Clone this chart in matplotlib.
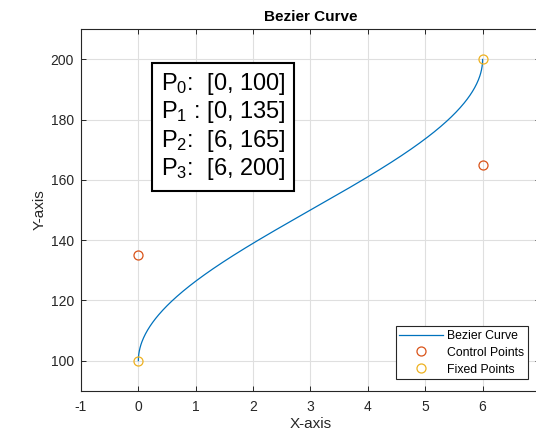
import numpy as np
import matplotlib
matplotlib.use("Agg")
import matplotlib.pyplot as plt

plt.rcParams['font.family'] = ['Liberation Sans', 'DejaVu Sans']
plt.rcParams['mathtext.fontset'] = 'custom'
plt.rcParams['mathtext.rm'] = 'Liberation Sans'
plt.rcParams['mathtext.it'] = 'Liberation Sans:italic'
plt.rcParams['axes.unicode_minus'] = False

# Data
point_labels = ["P$_0$:  [0, 100]", "P$_1$ : [0, 135]", "P$_2$:  [6, 165]", "P$_3$:  [6, 200]"]
fixed_x = [0, 6]
fixed_y = [100, 200]
control_x = [0, 6]
control_y = [135, 165]
x_ticks = [-1, 0, 1, 2, 3, 4, 5, 6]
y_ticks = [100, 120, 140, 160, 180, 200]

# Cubic Bezier from the four points
P = np.array([[fixed_x[0], fixed_y[0]], [control_x[0], control_y[0]],
              [control_x[1], control_y[1]], [fixed_x[1], fixed_y[1]]], dtype=float)
t = np.linspace(0, 1, 400)[:, None]
B = ((1 - t) ** 3) * P[0] + 3 * ((1 - t) ** 2) * t * P[1] + 3 * (1 - t) * t ** 2 * P[2] + t ** 3 * P[3]

fig = plt.figure(figsize=(5.36, 4.37), dpi=100)
ax = fig.add_axes([0.1511, 0.1059, 0.8563, 0.827])

gray = '#262626'
ax.plot(B[:, 0], B[:, 1], color='#0072BD', lw=0.9, label='Bezier Curve')
ax.plot(control_x, control_y, 'o', mfc='none', mec='#D95319', ms=6.5, mew=0.9, label='Control Points')
ax.plot(fixed_x, fixed_y, 'o', mfc='none', mec='#EDB120', ms=6.5, mew=0.9, label='Fixed Points')

ax.set_xlim(-1, 7)
ax.set_ylim(90, 210)
ax.set_xticks(x_ticks)
ax.set_yticks(y_ticks)
ax.grid(True, color='#dfdfdf', lw=0.8)
ax.set_axisbelow(True)
ax.tick_params(direction='in', length=3.5, width=0.7, colors=gray, labelsize=10, top=True, right=True)
ax.tick_params(axis='x', pad=7)
ax.tick_params(axis='y', pad=5)
for s in ax.spines.values():
    s.set_color(gray)
    s.set_linewidth(0.8)

ax.set_title('Bezier Curve', fontsize=11, fontweight='bold', color='black', pad=6)
ax.set_xlabel('X-axis', fontsize=11, color=gray, labelpad=2)
ax.set_ylabel('Y-axis', fontsize=11, color=gray, labelpad=3)

ax.text(0.39, 177.7, "\n".join(point_labels), fontsize=17, color='black', va='center', ha='left',
        linespacing=1.13,
        bbox=dict(boxstyle='square,pad=0.35', fc='white', ec='black', lw=1.5))

leg = ax.legend(loc='lower right', bbox_to_anchor=(0.9745, 0.0316), borderaxespad=0, fontsize=8.8,
                frameon=True, fancybox=False, edgecolor=gray, framealpha=1, borderpad=0.3,
                handlelength=3.6, handletextpad=0.35, labelspacing=0.4)
leg.get_frame().set_linewidth(0.8)

fig.savefig('out.png', dpi=100)
